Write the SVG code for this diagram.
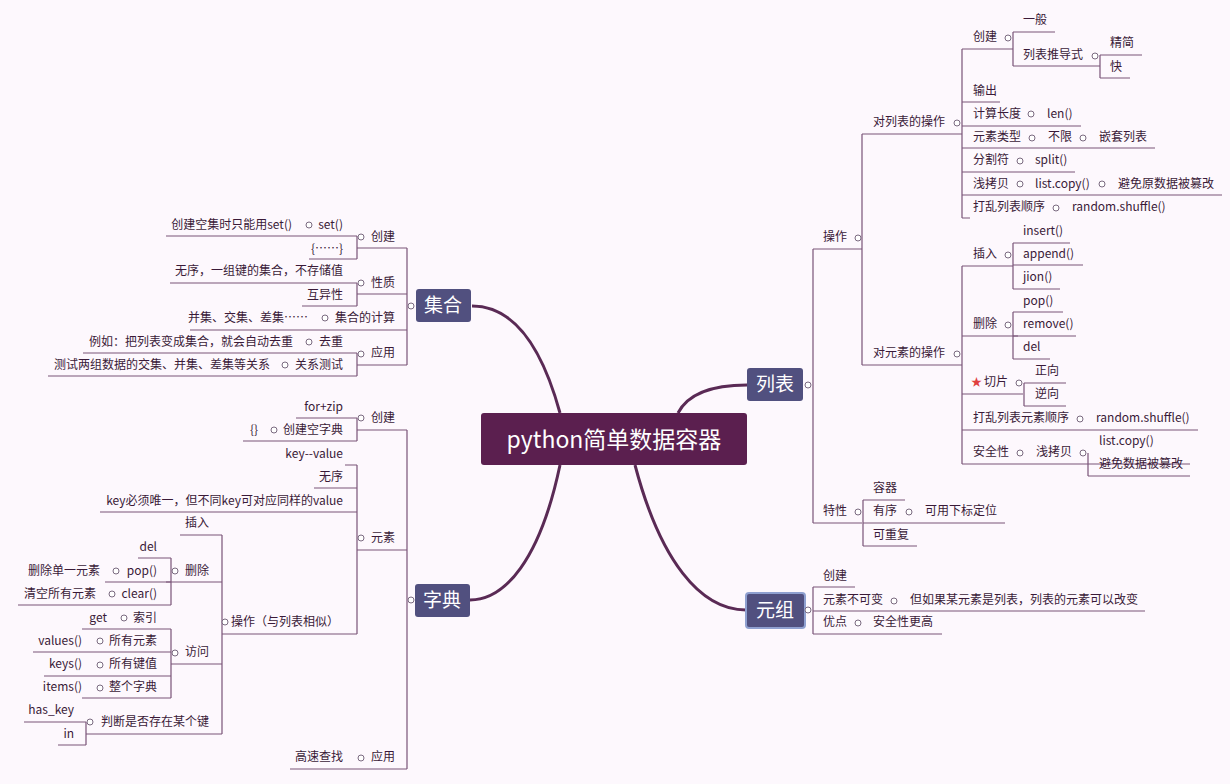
<svg xmlns="http://www.w3.org/2000/svg" width="1230" height="784" viewBox="0 0 1230 784">
<style>
text{font-family:"Noto Sans CJK SC","Noto Sans",sans-serif;font-size:12px;fill:#3a1a38}
.e{text-anchor:end}
.u{stroke:#7a5478;stroke-width:1.2;fill:none}
.c{stroke:#7a6a80;stroke-width:1;fill:#fff}
.k{stroke:#5a2a55;stroke-width:3;fill:none}
.nt{fill:#fff;font-size:19px;text-anchor:middle}
</style>
<rect width="1230" height="784" fill="#fdf8fd"/>
<g id="connectors">
<path class="k" d="M560 413 C540 340 510 306 472 306"/>
<path class="k" d="M560 465 C540 560 505 600 470 600"/>
<path class="k" d="M678 413 C690 390 720 385 747 385"/>
<path class="k" d="M635 465 C660 560 700 610 746 610"/>
<g class="u">
<path d="M813 385 V249 M813 385 V523 M813 249 H862 M813 523 H862"/>
<path d="M862 134 V365 M862 134 H962 M862 365 H962"/>
<path d="M962 49 V218 M962 49 H1013 M962 102 H1000 M962 126 H1081 M962 148 H1155 M962 172 H1075 M962 195 H1222 M962 218 H970"/>
<path d="M1013 32 V66 M1013 32 H1055 M1013 66 H1100 M1100 55 V78 M1100 55 H1142 M1100 78 H1130"/>
<path d="M962 266 V464 M962 266 H1013 M962 336 H1018 M962 394 H1023 M962 430 H1198 M962 464 H1088"/>
<path d="M1013 243 V289 M1013 243 H1070 M1013 265 H1083 M1013 289 H1060"/>
<path d="M1013 312 V359 M1013 312 H1063 M1013 336 H1076 M1013 359 H1050"/>
<path d="M1024 383 V406 M1024 383 H1066 M1024 406 H1066"/>
<path d="M1088 453 V476 M1088 464 H1190 M1088 476 H1190"/>
<path d="M863 500 V546 M863 500 H905 M863 523 H1005 M863 546 H917"/>
<path d="M813 587 V634 M813 587 H855 M813 611 H1145 M813 634 H942"/>
<path d="M407 248 V365 M407 248 H357 M407 294 H357 M407 330 H190 M407 365 H357"/>
<path d="M357 236 V259 M357 236 H166 M357 259 H309"/>
<path d="M357 283 V306 M357 283 H170 M357 306 H302"/>
<path d="M357 353 V376 M357 353 H83 M357 376 H48"/>
<path d="M407 430 V769 M407 430 H357 M407 550 H357 M407 769 H290"/>
<path d="M357 418 V441 M357 418 H296 M357 441 H243"/>
<path d="M357 465 V634 M357 465 H345 M357 488 H314 M357 512 H100 M357 634 H222"/>
<path d="M222 535 V734 M222 535 H180 M222 582 H166 M222 664 H171 M222 734 H86"/>
<path d="M171 558 V605 M171 558 H138 M171 582 H105 M171 605 H18"/>
<path d="M171 629 V698 M171 629 H82 M171 652 H33 M171 676 H44 M171 698 H82"/>
<path d="M86 722 V745 M86 722 H24 M86 745 H58"/>
</g>
</g>
<g id="center"><rect x="481" y="413" width="266" height="52" rx="3" fill="#5b1f4f"/><text x="614" y="448" class="nt" style="font-size:23px">python简单数据容器</text></g>
<g id="n-set"><rect x="416" y="289" width="55" height="33" rx="3" fill="#51507f"/><text x="443" y="312" class="nt">集合</text><circle class="c" cx="411" cy="306" r="3"/></g>
<g id="n-dict"><rect x="415" y="584" width="55" height="33" rx="3" fill="#51507f"/><text x="442" y="607" class="nt">字典</text><circle class="c" cx="411" cy="600" r="3"/></g>
<g id="n-list"><rect x="747" y="368" width="56" height="33" rx="3" fill="#51507f"/><text x="775" y="391" class="nt">列表</text><circle class="c" cx="808" cy="385" r="3"/></g>
<g id="n-tuple"><rect x="746" y="593" width="59" height="35" rx="3" fill="#51507f" stroke="#8fa0d0" stroke-width="2"/><text x="775" y="617" class="nt">元组</text><circle class="c" cx="808" cy="610" r="3"/></g>
<g id="list-items">
<text x="823" y="241">操作</text><circle class="c" cx="858" cy="238" r="3"/>
<text x="873" y="126">对列表的操作</text><circle class="c" cx="957" cy="123" r="3"/>
<text x="973" y="41">创建</text><circle class="c" cx="1008" cy="38" r="3"/>
<text x="1023" y="24">一般</text>
<text x="1023" y="59">列表推导式</text><circle class="c" cx="1095" cy="56" r="3"/>
<text x="1110" y="47">精简</text><text x="1110" y="71">快</text>
<text x="973" y="95">输出</text>
<text x="973" y="118">计算长度</text><circle class="c" cx="1031" cy="114" r="3"/><text x="1047" y="118">len()</text>
<text x="973" y="141">元素类型</text><circle class="c" cx="1032" cy="138" r="3"/><text x="1048" y="141">不限</text><circle class="c" cx="1083" cy="138" r="3"/><text x="1099" y="141">嵌套列表</text>
<text x="973" y="164">分割符</text><circle class="c" cx="1020" cy="161" r="3"/><text x="1035" y="164">split()</text>
<text x="973" y="188">浅拷贝</text><circle class="c" cx="1020" cy="184" r="3"/><text x="1035" y="188">list.copy()</text><circle class="c" cx="1102" cy="184" r="3"/><text x="1118" y="188">避免原数据被篡改</text>
<text x="973" y="211">打乱列表顺序</text><circle class="c" cx="1056" cy="208" r="3"/><text x="1072" y="211">random.shuffle()</text>
<text x="873" y="357">对元素的操作</text><circle class="c" cx="957" cy="354" r="3"/>
<text x="973" y="258">插入</text><circle class="c" cx="1008" cy="255" r="3"/>
<text x="1023" y="235">insert()</text><text x="1023" y="258">append()</text><text x="1023" y="281">jion()</text>
<text x="973" y="328">删除</text><circle class="c" cx="1008" cy="325" r="3"/>
<text x="1023" y="305">pop()</text><text x="1023" y="328">remove()</text><text x="1023" y="351">del</text>
<text x="971" y="386" style="fill:#e04040;font-size:11px">★</text><text x="984" y="386">切片</text><circle class="c" cx="1019" cy="383" r="3"/>
<text x="1035" y="375">正向</text><text x="1035" y="398">逆向</text>
<text x="973" y="422">打乱列表元素顺序</text><circle class="c" cx="1080" cy="419" r="3"/><text x="1096" y="422">random.shuffle()</text>
<text x="973" y="456">安全性</text><circle class="c" cx="1020" cy="453" r="3"/><text x="1036" y="456">浅拷贝</text><circle class="c" cx="1083" cy="453" r="3"/>
<text x="1099" y="445">list.copy()</text><text x="1099" y="468">避免数据被篡改</text>
<text x="823" y="515">特性</text><circle class="c" cx="858" cy="512" r="3"/>
<text x="873" y="492">容器</text>
<text x="873" y="515">有序</text><circle class="c" cx="909" cy="512" r="3"/><text x="925" y="515">可用下标定位</text>
<text x="873" y="539">可重复</text>
</g>
<g id="tuple-items">
<text x="823" y="580">创建</text>
<text x="823" y="604">元素不可变</text><circle class="c" cx="894" cy="601" r="3"/><text x="910" y="604">但如果某元素是列表，列表的元素可以改变</text>
<text x="823" y="626">优点</text><circle class="c" cx="858" cy="623" r="3"/><text x="873" y="626">安全性更高</text>
</g>
<g id="set-items">
<text x="395" y="241" class="e">创建</text><circle class="c" cx="361" cy="237" r="3"/>
<text x="343" y="229" class="e">set()</text><circle class="c" cx="309" cy="225" r="3"/><text x="292" y="229" class="e">创建空集时只能用set()</text>
<text x="343" y="253" class="e">{……}</text>
<text x="395" y="287" class="e">性质</text><circle class="c" cx="361" cy="283" r="3"/>
<text x="343" y="275" class="e">无序，一组键的集合，不存储值</text><text x="343" y="299" class="e">互异性</text>
<text x="395" y="322" class="e">集合的计算</text><circle class="c" cx="325" cy="318" r="3"/><text x="308" y="322" class="e">并集、交集、差集……</text>
<text x="395" y="357" class="e">应用</text><circle class="c" cx="361" cy="354" r="3"/>
<text x="343" y="346" class="e">去重</text><circle class="c" cx="309" cy="342" r="3"/><text x="293" y="346" class="e">例如：把列表变成集合，就会自动去重</text>
<text x="343" y="369" class="e">关系测试</text><circle class="c" cx="285" cy="365" r="3"/><text x="270" y="369" class="e">测试两组数据的交集、并集、差集等关系</text>
</g>
<g id="dict-items">
<text x="395" y="422" class="e">创建</text><circle class="c" cx="361" cy="418" r="3"/>
<text x="343" y="411" class="e">for+zip</text>
<text x="343" y="434" class="e">创建空字典</text><circle class="c" cx="274" cy="430" r="3"/><text x="258" y="434" class="e">{}</text>
<text x="395" y="542" class="e">元素</text><circle class="c" cx="361" cy="538" r="3"/>
<text x="343" y="458" class="e">key--value</text><text x="343" y="481" class="e">无序</text>
<text x="343" y="505" class="e">key必须唯一，但不同key可对应同样的value</text>
<text x="339" y="626" class="e">操作（与列表相似）</text><circle class="c" cx="225" cy="622" r="3"/>
<text x="209" y="527" class="e">插入</text>
<text x="209" y="575" class="e">删除</text><circle class="c" cx="175" cy="571" r="3"/>
<text x="157" y="551" class="e">del</text>
<text x="157" y="575" class="e">pop()</text><circle class="c" cx="116" cy="571" r="3"/><text x="100" y="575" class="e">删除单一元素</text>
<text x="157" y="598" class="e">clear()</text><circle class="c" cx="112" cy="594" r="3"/><text x="96" y="598" class="e">清空所有元素</text>
<text x="209" y="656" class="e">访问</text><circle class="c" cx="175" cy="653" r="3"/>
<text x="157" y="622" class="e">索引</text><circle class="c" cx="124" cy="618" r="3"/><text x="107" y="622" class="e">get</text>
<text x="157" y="645" class="e">所有元素</text><circle class="c" cx="100" cy="641" r="3"/><text x="82" y="645" class="e">values()</text>
<text x="157" y="668" class="e">所有键值</text><circle class="c" cx="100" cy="665" r="3"/><text x="82" y="668" class="e">keys()</text>
<text x="157" y="691" class="e">整个字典</text><circle class="c" cx="100" cy="688" r="3"/><text x="82" y="691" class="e">items()</text>
<text x="209" y="726" class="e">判断是否存在某个键</text><circle class="c" cx="90" cy="722" r="3"/>
<text x="74" y="714" class="e">has_key</text><text x="74" y="738" class="e">in</text>
<text x="395" y="761" class="e">应用</text><circle class="c" cx="361" cy="758" r="3"/><text x="343" y="761" class="e">高速查找</text>
</g>
</svg>
